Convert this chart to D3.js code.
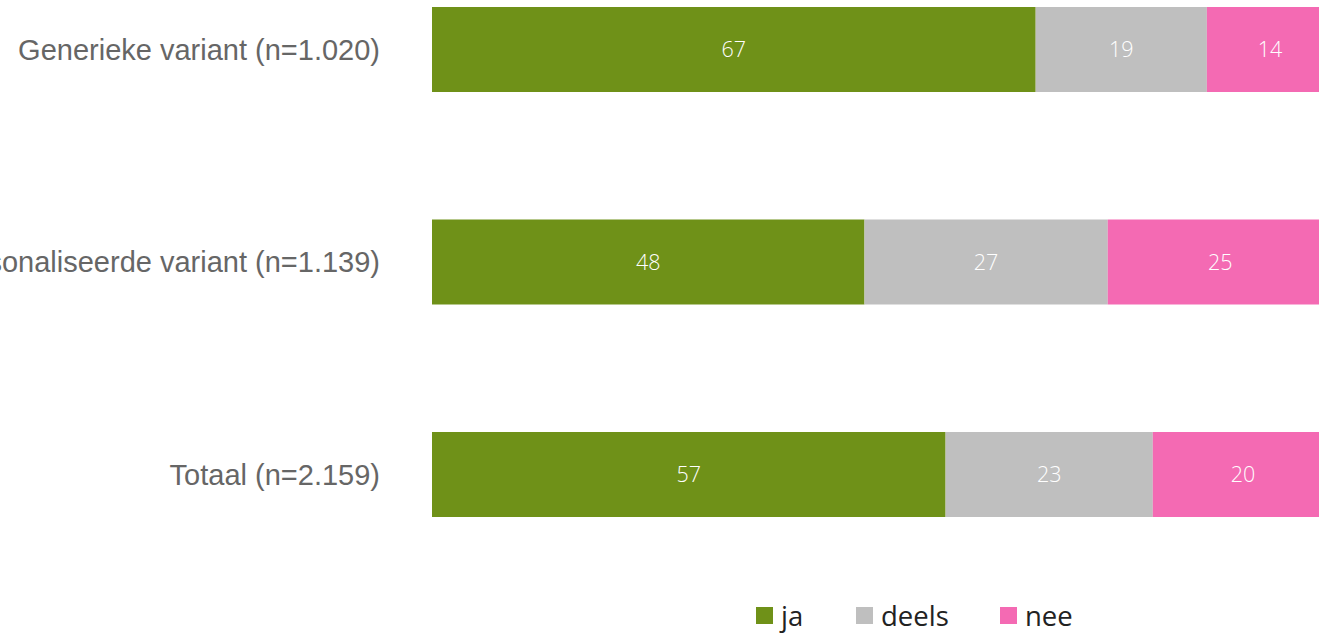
<!DOCTYPE html>
<html lang="en">
<head>
  <meta charset="utf-8">
  <title>Stacked bars</title>
  <script src="https://d3js.org/d3.v7.min.js"></script>
  <style>
    body { margin: 0; background: #fff; overflow: hidden; }
  </style>
</head>
<body>
<script>
// categories and series (percentages)
var categories = ['Generieke variant (n=1.020)', 'Gepersonaliseerde variant (n=1.139)', 'Totaal (n=2.159)'];
var seriesNames = ['ja', 'deels', 'nee'];
var ja = [67, 48, 57];
var deels = [19, 27, 23];
var nee = [14, 25, 20];
var colors = ['#6f9118', '#bfbfbf', '#f46ab3'];

var w = 1319, h = 633;

var rows = categories.map(function (c, i) {
  return { cat: c, ja: ja[i], deels: deels[i], nee: nee[i] };
});

var svg = d3.select('body').append('svg')
  .attr('width', w)
  .attr('height', h);

// the plot runs past the right edge of the window, as in the original
var x = d3.scaleLinear().domain([0, 100]).range([432, 1333]);
var y = d3.scaleBand().domain(categories).range([7, 517]).paddingInner(0.6).paddingOuter(0);

var stack = d3.stack().keys(seriesNames);
var layers = stack(rows);

var g = svg.selectAll('g.layer')
  .data(layers)
  .enter().append('g')
  .attr('class', 'layer')
  .attr('fill', function (d, i) { return colors[i]; });

g.selectAll('rect')
  .data(function (d) { return d; })
  .enter().append('rect')
  .attr('x', function (d) { return x(d[0]); })
  .attr('y', function (d) { return y(d.data.cat); })
  .attr('width', function (d) { return x(d[1]) - x(d[0]); })
  .attr('height', y.bandwidth());

// value labels, centred on the full segment
g.selectAll('text')
  .data(function (d) { return d; })
  .enter().append('text')
  .attr('x', function (d) { return (x(d[0]) + x(d[1])) / 2; })
  .attr('y', function (d) { return y(d.data.cat) + y.bandwidth() / 2; })
  .attr('dy', '0.35em')
  .attr('text-anchor', 'middle')
  .attr('fill', '#fff')
  .style('font-family', "'Open Sans', sans-serif")
  .style('font-size', '21.5px')
  .style('font-weight', 300)
  .text(function (d) { return d[1] - d[0]; });

// category labels (the long one is cut at the left edge in the original)
svg.selectAll('text.cat')
  .data(categories)
  .enter().append('text')
  .attr('class', 'cat')
  .attr('x', 380)
  .attr('y', function (d) { return y(d) + y.bandwidth() / 2; })
  .attr('dy', '0.35em')
  .attr('text-anchor', 'end')
  .attr('fill', '#666')
  .style('font-family', "'Liberation Sans', Arial, sans-serif")
  .style('font-size', '29px')
  .text(function (d) { return d; });

// legend
var legendX = [756, 856, 1000];
var lg = svg.selectAll('g.legend')
  .data(seriesNames)
  .enter().append('g')
  .attr('class', 'legend')
  .attr('transform', function (d, i) { return 'translate(' + legendX[i] + ',607)'; });

lg.append('rect')
  .attr('width', 17)
  .attr('height', 17)
  .attr('fill', function (d, i) { return colors[i]; });

lg.append('text')
  .attr('x', 25)
  .attr('y', 9)
  .attr('dy', '0.35em')
  .attr('fill', '#222')
  .style('font-family', "'Open Sans', sans-serif")
  .style('font-size', '27.5px')
  .text(function (d) { return d; });
</script>
</body>
</html>
